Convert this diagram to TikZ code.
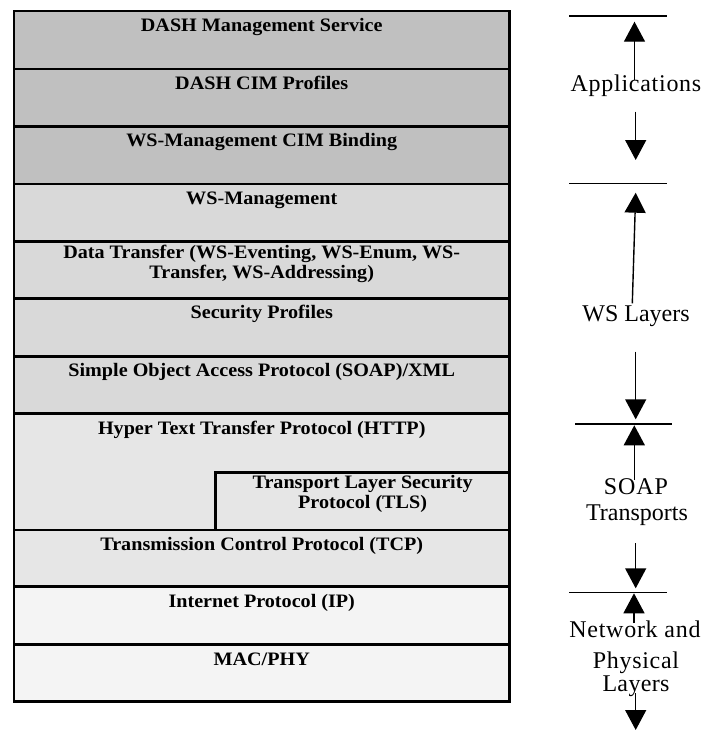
\documentclass[tikz,border=0pt]{standalone}
\usepackage{fontspec}
\setmainfont{Liberation Serif}
\newfontfamily\layerfont[FakeStretch=1.06]{Liberation Serif}
\newfontfamily\sidefont{Liberation Serif}
\usetikzlibrary{arrows.meta}
\definecolor{appgray}{HTML}{C0C0C0}
\definecolor{wsgray}{HTML}{D9D9D9}
\definecolor{trgray}{HTML}{E6E6E6}
\definecolor{netgray}{HTML}{F4F4F4}
\tikzset{
  layer/.style={draw=black, line width=2.8pt, inner sep=0pt, outer sep=0pt, anchor=north west, minimum width=495.5pt},
  lbl/.style={anchor=base, inner sep=0pt, font=\layerfont\bfseries\fontsize{19}{20}\selectfont},
  side/.style={anchor=base, inner sep=0pt, font=\sidefont\fontsize{24}{28}\selectfont},
  tick/.style={line width=1.3pt},
  arr/.style={line width=1.4pt, -{Triangle[width=21pt,length=20pt]}}
}
\begin{document}
\begin{tikzpicture}[x=1pt,y=-1pt]
\useasboundingbox (0,0) rectangle (717,732);
% layers
\node[layer, fill=appgray, minimum height=58pt]   (dms)  at (14,11)    {};
\node[layer, fill=appgray, minimum height=57.7pt] (cim)  at (14,69)    {};
\node[layer, fill=appgray, minimum height=57.3pt] (bind) at (14,126.7) {};
\node[layer, fill=wsgray,  minimum height=57.7pt] (wsm)  at (14,184)   {};
\node[layer, fill=wsgray,  minimum height=57pt]   (dt)   at (14,241.7) {};
\node[layer, fill=wsgray,  minimum height=58pt]   (sec)  at (14,298.7) {};
\node[layer, fill=wsgray,  minimum height=56.6pt] (soap) at (14,356.7) {};
\node[layer, fill=trgray,  minimum height=116.7pt] (http) at (14,413.3) {};
\node[layer, fill=trgray,  minimum height=57.7pt, minimum width=293.8pt] (tls) at (215.7,472.3) {};
\node[layer, fill=trgray,  minimum height=56.7pt] (tcp)  at (14,530)   {};
\node[layer, fill=netgray, minimum height=57.6pt] (ip)   at (14,586.7) {};
\node[layer, fill=netgray, minimum height=57.4pt] (mac)  at (14,644.3) {};
% labels
\node[lbl] (tdms)  at ([yshift=-20pt]dms.north)  {DASH Management Service};
\node[lbl] (tcim)  at ([yshift=-20pt]cim.north)  {DASH CIM Profiles};
\node[lbl] (tbind) at ([yshift=-20pt]bind.north) {WS-Management CIM Binding};
\node[lbl] (twsm)  at ([yshift=-20pt]wsm.north)  {WS-Management};
\node[lbl] (tdt1)  at ([yshift=-16.6pt]dt.north) {Data Transfer (WS-Eventing, WS-Enum, WS-};
\node[lbl] (tdt2)  at ([yshift=-36.6pt]dt.north) {Transfer, WS-Addressing)};
\node[lbl] (tsec)  at ([yshift=-20pt]sec.north)  {Security Profiles};
\node[lbl] (tsoap) at ([yshift=-20pt]soap.north) {Simple Object Access Protocol (SOAP)/XML};
\node[lbl] (thttp) at ([yshift=-21pt]http.north) {Hyper Text Transfer Protocol (HTTP)};
\node[lbl] (ttls1) at ([yshift=-15.7pt]tls.north) {Transport Layer Security};
\node[lbl] (ttls2) at ([yshift=-35.7pt]tls.north) {Protocol (TLS)};
\node[lbl] (ttcp)  at ([yshift=-20pt]tcp.north)  {Transmission Control Protocol (TCP)};
\node[lbl] (tip)   at ([yshift=-21pt]ip.north)   {Internet Protocol (IP)};
\node[lbl] (tmac)  at ([yshift=-20.7pt]mac.north) {MAC/PHY};
% side labels
\node[side] (sapp) at (636,91)  {\addfontfeature{LetterSpace=3}Applications};
\node[side] (sws)  at (636,321) {WS Layers};
\node[side] (ssoap) at (636,494) {\addfontfeature{LetterSpace=4}SOAP};
\node[side] (strn) at (637,520) {Transports};
\node[side] (snet) at (635,637) {\addfontfeature{LetterSpace=3}Network and};
\node[side] (sphy) at (636,668) {\addfontfeature{LetterSpace=3}Physical};
\node[side] (slay) at (636,691.5) {\addfontfeature{LetterSpace=1.4}Layers};
% boundary ticks
\coordinate (l1a) at (569,16);    \coordinate (l1b) at (667,16);
\coordinate (l2a) at (569,183.7); \coordinate (l2b) at (667,183.7);
\coordinate (l3a) at (575,424);   \coordinate (l3b) at (672.3,424);
\coordinate (l4a) at (569,592.7); \coordinate (l4b) at (667,592.7);
\draw[tick] (l1a) -- (l1b);
\draw[tick] (l2a) -- (l2b);
\draw[tick] (l3a) -- (l3b);
\draw[tick] (l4a) -- (l4b);
% arrows
\coordinate (a1s) at (634.5,80);    \coordinate (a1e) at (634.5,21.7);
\coordinate (a2s) at (635.7,111.7); \coordinate (a2e) at (635.7,160);
\coordinate (a3s) at (632.3,303.3); \coordinate (a3e) at (635.7,192.7);
\coordinate (a4s) at (635.7,351.7); \coordinate (a4e) at (635.7,419.3);
\coordinate (a5s) at (634.3,480);   \coordinate (a5e) at (634.3,425.3);
\coordinate (a6s) at (635.7,543.3); \coordinate (a6e) at (635.7,588.3);
\coordinate (a7s) at (634,623);     \coordinate (a7e) at (634,593.3);
\coordinate (a8s) at (635.7,693);   \coordinate (a8e) at (635.7,730);
\draw[arr] (a1s) -- (a1e);
\draw[arr] (a2s) -- (a2e);
\draw[arr] (a3s) -- (a3e);
\draw[arr] (a4s) -- (a4e);
\draw[arr] (a5s) -- (a5e);
\draw[arr] (a6s) -- (a6e);
\draw[arr] (a7s) -- (a7e);
\draw[arr] (a8s) -- (a8e);
\end{tikzpicture}
\end{document}
